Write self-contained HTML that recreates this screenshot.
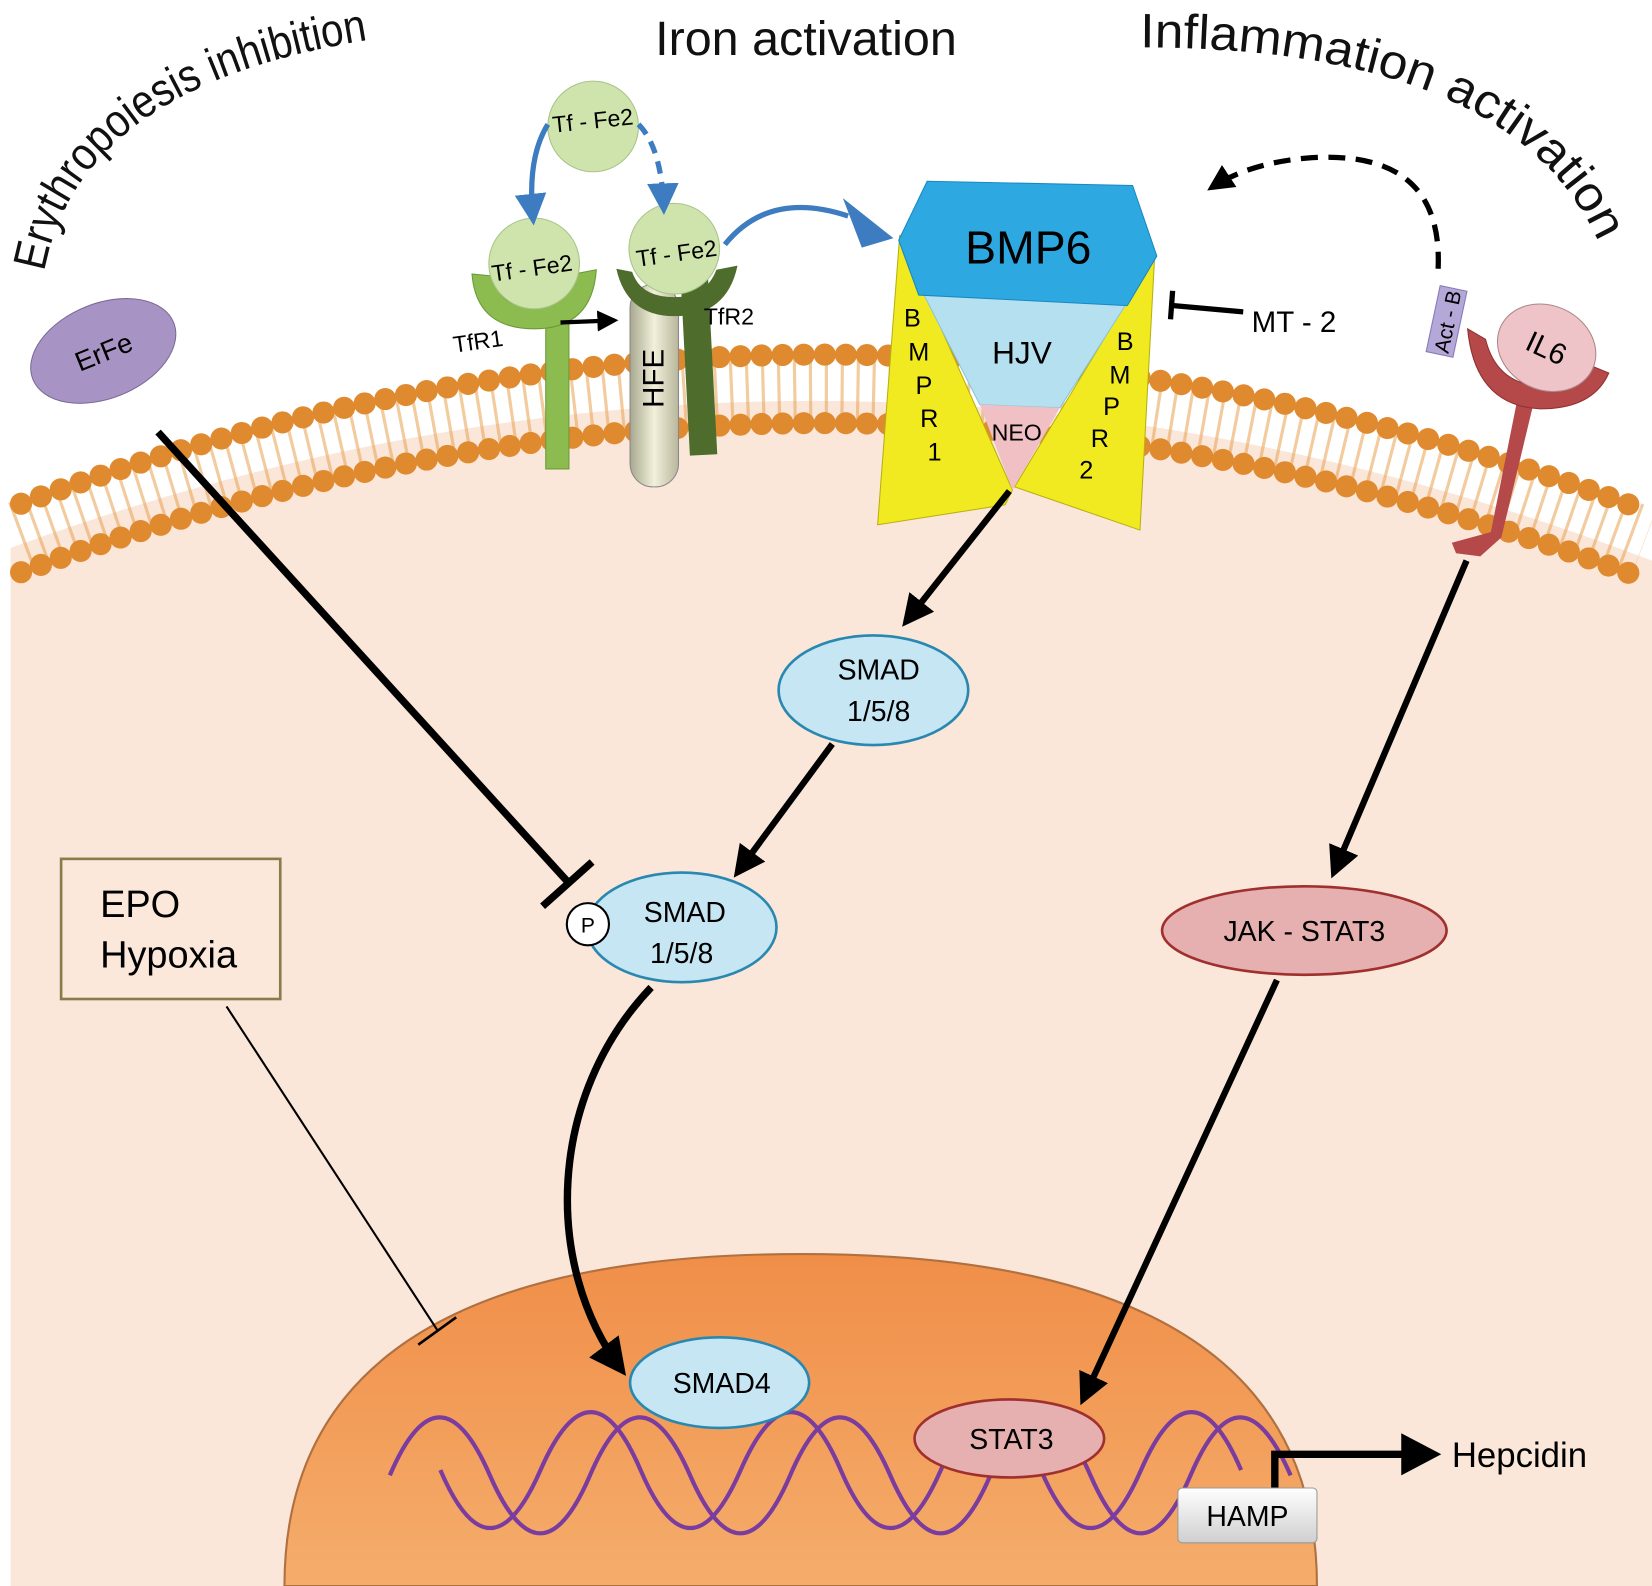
<!DOCTYPE html>
<html><head><meta charset="utf-8"><style>
html,body{margin:0;padding:0;background:#fff}
svg{display:block}
text{font-family:"Liberation Sans",Arial,sans-serif}
</style></head><body>
<svg width="1652" height="1586" viewBox="0 0 1568 1505" preserveAspectRatio="none" xmlns="http://www.w3.org/2000/svg">
<defs>
<linearGradient id="nuc" x1="0" y1="0" x2="0" y2="1"><stop offset="0" stop-color="#f08e48"/><stop offset="1" stop-color="#f5ad6c"/></linearGradient>
<linearGradient id="hfe" x1="0" y1="0" x2="1" y2="0"><stop offset="0" stop-color="#a8a890"/><stop offset="0.5" stop-color="#f2f0da"/><stop offset="1" stop-color="#b8b69c"/></linearGradient>
<linearGradient id="hamp" x1="0" y1="0" x2="0" y2="1"><stop offset="0" stop-color="#fff"/><stop offset="1" stop-color="#cfcfcf"/></linearGradient>
<marker id="ah" viewBox="0 0 10 10" refX="8" refY="5" markerWidth="5" markerHeight="5" orient="auto"><path d="M0,0 L10,5 L0,10 z" fill="#000"/></marker>
<marker id="bh" viewBox="0 0 10 10" refX="8" refY="5" markerWidth="6" markerHeight="6" orient="auto"><path d="M0,0 L10,5 L0,10 z" fill="#3d7cc0"/></marker>
<path id="p1" d="M42 258 Q75 75 370 35"/>
<path id="p2" d="M1082 45 Q1430 45 1515 225"/>
</defs>
<path d="M10 520 Q790 235 1568 532 L1568 1505 L10 1505 Z" fill="#fae7da"/>
<path d="M20 478 Q790 192 1560 484" fill="none" stroke="#e8a050" stroke-width="70" stroke-dasharray="3 12" opacity="0.55" transform="translate(0,32)"/>
<path d="M20 478 Q790 192 1560 484" fill="none" stroke="#e08a30" stroke-width="21" stroke-linecap="round" stroke-dasharray="0 20"/>
<path d="M20 543 Q790 257 1560 549" fill="none" stroke="#e08a30" stroke-width="21" stroke-linecap="round" stroke-dasharray="0 20"/>
<path d="M270 1505 Q270 1190 760 1190 Q1250 1190 1250 1505 Z" fill="url(#nuc)" stroke="#b07040" stroke-width="2"/>
<path d="M370 1395 q47 -110 95 0 t95 0 t95 0 t95 0 t95 0 t95 0 t95 0 t95 0 t95 0" fill="none" stroke="#7a3c9e" stroke-width="4" transform="translate(0,5)"/>
<path d="M418 1400 q47 110 95 0 t95 0 t95 0 t95 0 t95 0 t95 0 t95 0 t95 0" fill="none" stroke="#7a3c9e" stroke-width="4" transform="translate(0,-5)"/>
<text x="765" y="52" font-size="46" text-anchor="middle" fill="#111">Iron activation</text>
<text font-size="44" fill="#111"><textPath href="#p1" textLength="405" lengthAdjust="spacingAndGlyphs">Erythropoiesis inhibition</textPath></text>
<text font-size="46" fill="#111"><textPath href="#p2" textLength="500" lengthAdjust="spacingAndGlyphs">Inflammation activation</textPath></text>
<g transform="translate(98,333) rotate(-22)"><ellipse rx="72" ry="45" fill="#a894c4" stroke="#7a6a96"/><text y="10" font-size="26" text-anchor="middle">ErFe</text></g>
<line x1="150" y1="410" x2="540" y2="838" stroke="#000" stroke-width="7"/>
<line x1="515" y1="860" x2="562" y2="818" stroke="#000" stroke-width="7"/>
<rect x="518" y="290" width="22" height="155" fill="#8cbc50" stroke="#6a9a38"/>
<path d="M448 260 Q452 312 507 312 Q562 312 566 256 L545 260 Q540 292 507 292 Q474 292 468 262 Z" fill="#8cbc50" stroke="#6a9a38"/>
<circle cx="507" cy="250" r="43" fill="#cfe4ac" stroke="#a8c488"/>
<text x="505" y="262" font-size="22" text-anchor="middle" transform="rotate(-8 505 255)">Tf - Fe2</text>
<text x="430" y="332" font-size="22" transform="rotate(-8 450 325)">TfR1</text>
<line x1="532" y1="306" x2="583" y2="304" stroke="#000" stroke-width="4" marker-end="url(#ah)"/>
<rect x="598" y="270" width="46" height="192" rx="22" fill="url(#hfe)" stroke="#888"/>
<text x="636" y="365" font-size="28" text-anchor="middle" transform="rotate(-90 630 365)">HFE</text>
<rect x="650" y="260" width="26" height="172" fill="#4e6c2c" transform="rotate(-3 660 340)"/>
<path d="M585 255 Q595 300 640 300 Q690 300 700 252 L680 256 Q670 282 640 282 Q608 282 600 258 Z" fill="#4e6c2c"/>
<circle cx="640" cy="236" r="43" fill="#cfe4ac" stroke="#a8c488"/>
<text x="642" y="248" font-size="22" text-anchor="middle" transform="rotate(-8 642 240)">Tf - Fe2</text>
<text x="668" y="308" font-size="22">TfR2</text>
<circle cx="563" cy="120" r="43" fill="#cfe4ac" stroke="#a8c488"/>
<text x="563" y="122" font-size="22" text-anchor="middle" transform="rotate(-6 563 118)">Tf - Fe2</text>
<path d="M520 118 Q500 150 506 208" fill="none" stroke="#3d7cc0" stroke-width="5" marker-end="url(#bh)"/>
<path d="M606 118 Q628 140 630 198" fill="none" stroke="#3d7cc0" stroke-width="5" stroke-dasharray="12 8" marker-end="url(#bh)"/>
<path d="M688 232 Q730 180 805 205" fill="none" stroke="#3d7cc0" stroke-width="5"/>
<path d="M800 188 L848 226 L818 235 Z" fill="#3d7cc0"/>
<polygon points="854,223 833,498 954,479 961,465" fill="#f2ea20" stroke="#b8b010"/>
<polygon points="1096,242 1082,503 963,462" fill="#f2ea20" stroke="#b8b010"/>
<polygon points="876,278 1068,290 1006,387 930,384" fill="#b4e0f0" stroke="#8cc4dc"/>
<polygon points="930,384 1006,387 961,465" fill="#f0c0c4"/>
<polygon points="853,228 880,172 1075,176 1098,243 1070,290 872,280" fill="#2ea8e0" stroke="#1a88c0"/>
<text x="976" y="250" font-size="44" text-anchor="middle">BMP6</text>
<text x="970" y="345" font-size="30" text-anchor="middle">HJV</text>
<text x="965" y="418" font-size="22" text-anchor="middle">NEO</text>
<g font-size="24" text-anchor="middle">
<text x="866" y="310">B</text><text x="872" y="342">M</text><text x="877" y="374">P</text><text x="882" y="405">R</text><text x="887" y="437">1</text>
<text x="1068" y="332">B</text><text x="1063" y="364">M</text><text x="1055" y="394">P</text><text x="1044" y="424">R</text><text x="1031" y="454">2</text>
</g>
<line x1="1114" y1="290" x2="1180" y2="296" stroke="#000" stroke-width="5"/>
<line x1="1113" y1="276" x2="1111" y2="303" stroke="#000" stroke-width="5"/>
<text x="1188" y="315" font-size="28">MT - 2</text>
<path d="M1365 255 Q1370 140 1240 150 Q1185 155 1150 178" fill="none" stroke="#000" stroke-width="5" stroke-dasharray="16 10" marker-end="url(#ah)"/>
<g transform="translate(1373,305) rotate(-78)"><rect x="-32" y="-13" width="64" height="26" fill="#b4a8d8" stroke="#8878b8"/><text y="8" font-size="20" text-anchor="middle">Act - B</text></g>
<path d="M1440 380 L1415 505 L1378 515 L1382 525 L1405 528 L1425 510 L1455 385 Z" fill="#b54848"/>
<path d="M1393 312 Q1400 385 1462 388 Q1512 388 1527 354 L1505 345 Q1492 368 1458 366 Q1420 362 1410 322 Z" fill="#b54848" stroke="#903030"/>
<g transform="translate(1468,330) rotate(25)"><ellipse rx="48" ry="40" fill="#eec4c8" stroke="#a88"/><text y="10" font-size="28" text-anchor="middle">IL6</text></g>
<line x1="1392" y1="532" x2="1266" y2="828" stroke="#000" stroke-width="6" marker-end="url(#ah)"/>
<ellipse cx="1238" cy="883" rx="135" ry="42" fill="#e6b0b0" stroke="#a0302e" stroke-width="2.5"/>
<text x="1238" y="893" font-size="27" text-anchor="middle">JAK - STAT3</text>
<line x1="1212" y1="930" x2="1028" y2="1328" stroke="#000" stroke-width="6" marker-end="url(#ah)"/>
<line x1="958" y1="466" x2="860" y2="590" stroke="#000" stroke-width="6" marker-end="url(#ah)"/>
<ellipse cx="829" cy="655" rx="90" ry="52" fill="#c6e6f4" stroke="#2a88b0" stroke-width="2.5"/>
<text x="834" y="645" font-size="27" text-anchor="middle">SMAD</text><text x="834" y="684" font-size="27" text-anchor="middle">1/5/8</text>
<line x1="790" y1="706" x2="700" y2="828" stroke="#000" stroke-width="6" marker-end="url(#ah)"/>
<ellipse cx="647" cy="880" rx="90" ry="52" fill="#c6e6f4" stroke="#2a88b0" stroke-width="2.5"/>
<text x="650" y="875" font-size="27" text-anchor="middle">SMAD</text><text x="647" y="914" font-size="27" text-anchor="middle">1/5/8</text>
<circle cx="558" cy="877" r="20" fill="#fff" stroke="#000" stroke-width="2"/>
<text x="558" y="885" font-size="20" text-anchor="middle">P</text>
<path d="M618 937 C520 1040 515 1200 590 1300" fill="none" stroke="#000" stroke-width="7" marker-end="url(#ah)"/>
<ellipse cx="683" cy="1312" rx="85" ry="43" fill="#c6e6f4" stroke="#2a88b0" stroke-width="2.5"/>
<text x="685" y="1322" font-size="27" text-anchor="middle">SMAD4</text>
<rect x="58" y="815" width="208" height="133" fill="#fbe8da" stroke="#8b7b4b" stroke-width="2.5"/>
<text x="95" y="870" font-size="36">EPO</text><text x="95" y="918" font-size="36">Hypoxia</text>
<line x1="215" y1="955" x2="415" y2="1262" stroke="#000" stroke-width="2"/>
<line x1="397" y1="1276" x2="433" y2="1250" stroke="#000" stroke-width="2.5"/>
<ellipse cx="958" cy="1365" rx="90" ry="37" fill="#e6b0b0" stroke="#a0302e" stroke-width="2.5"/>
<text x="960" y="1375" font-size="27" text-anchor="middle">STAT3</text>
<path d="M1210 1412 L1210 1380 L1340 1380" fill="none" stroke="#000" stroke-width="7"/>
<path d="M1330 1360 L1368 1380 L1330 1400 Z" fill="#000"/>
<text x="1378" y="1392" font-size="33">Hepcidin</text>
<rect x="1118" y="1412" width="132" height="52" rx="4" fill="url(#hamp)" stroke="#999"/>
<text x="1184" y="1448" font-size="27" text-anchor="middle">HAMP</text>
</svg>
</body></html>
